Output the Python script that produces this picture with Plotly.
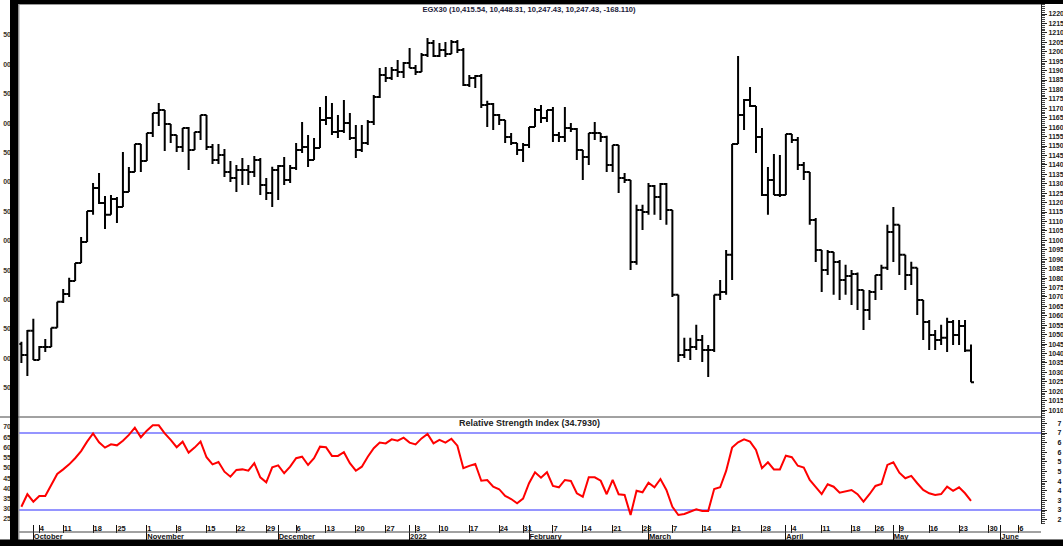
import plotly.graph_objects as go

# ---------------- data ----------------
bar_idx = list(range(160))

opens = [10451, 10392, 10520, 10366, 10435, 10435, 10536, 10674, 10716, 10785,
         10880, 10991, 11156, 11278, 11198, 11135, 11219, 11177, 11256, 11362,
         11511, 11421, 11569, 11675, 11691, 11617, 11558, 11495, 11596, 11479,
         11574, 11665, 11495, 11426, 11452, 11362, 11331, 11373, 11373, 11362,
         11426, 11294, 11251, 11373, 11394, 11320, 11384, 11479, 11495, 11426,
         11490, 11638, 11649, 11574, 11580, 11622, 11543, 11479, 11516, 11627,
         11760, 11877, 11861, 11903, 11892, 11940, 11914, 11892, 11983, 12046,
         11977, 12009, 11988, 12051, 12009, 11823, 11861, 11871, 11718, 11723,
         11665, 11638, 11548, 11516, 11479, 11506, 11601, 11691, 11649, 11691,
         11558, 11548, 11596, 11590, 11479, 11442, 11569, 11569, 11548, 11400,
         11506, 11331, 11320, 10885, 11161, 11150, 11288, 11230, 11299, 11161,
         10711, 10392, 10419, 10435, 10472, 10419, 10419, 10711, 10726, 10923,
         11511, 11665, 11744, 11712, 11548, 11240, 11320, 11240, 11240, 11564,
         11532, 11400, 11362, 11108, 10949, 10843, 10938, 10885, 10790, 10811,
         10822, 10737, 10631, 10726, 10816, 10854, 11044, 11082, 10923, 10816,
         10854, 10684, 10567, 10498, 10472, 10483, 10567, 10498, 10546, 10415.54]

highs = [10462, 10525, 10584, 10440, 10477, 10536, 10674, 10742, 10801, 10880,
         11018, 11156, 11304, 11357, 11235, 11240, 11230, 11468, 11389, 11511,
         11511, 11569, 11675, 11728, 11691, 11617, 11558, 11596, 11601, 11574,
         11665, 11665, 11511, 11511, 11484, 11421, 11400, 11437, 11400, 11447,
         11437, 11331, 11390, 11400, 11442, 11400, 11516, 11627, 11558, 11543,
         11707, 11765, 11728, 11665, 11744, 11675, 11612, 11612, 11638, 11771,
         11914, 11919, 11919, 11956, 11945, 12020, 11929, 11993, 12073, 12062,
         12046, 12051, 12062, 12062, 12020, 11877, 11877, 11882, 11740, 11728,
         11670, 11638, 11569, 11516, 11516, 11601, 11702, 11718, 11691, 11707,
         11574, 11707, 11622, 11596, 11479, 11569, 11627, 11569, 11555, 11506,
         11506, 11357, 11320, 11188, 11188, 11304, 11294, 11304, 11304, 11161,
         10711, 10483, 10483, 10552, 10498, 10445, 10711, 10790, 10949, 11511,
         11977, 11749, 11813, 11712, 11596, 11389, 11458, 11452, 11564, 11564,
         11548, 11415, 11362, 11119, 10949, 10949, 10938, 10896, 10870, 10843,
         10830, 10737, 10737, 10816, 10870, 11082, 11177, 11082, 10923, 10886,
         10854, 10684, 10578, 10525, 10552, 10589, 10578, 10578, 10578, 10448.31]

lows = [10350, 10281, 10366, 10366, 10408, 10435, 10536, 10668, 10700, 10785,
        10880, 10991, 11135, 11193, 11060, 11135, 11092, 11177, 11256, 11362,
        11362, 11421, 11548, 11606, 11474, 11516, 11468, 11468, 11373, 11479,
        11532, 11479, 11405, 11405, 11336, 11309, 11256, 11294, 11294, 11336,
        11240, 11214, 11177, 11214, 11294, 11304, 11373, 11463, 11389, 11426,
        11490, 11612, 11558, 11543, 11569, 11532, 11437, 11468, 11506, 11612,
        11755, 11839, 11850, 11866, 11861, 11914, 11877, 11892, 11972, 11972,
        11972, 11972, 11988, 11993, 11818, 11813, 11808, 11702, 11601, 11585,
        11612, 11516, 11506, 11453, 11415, 11490, 11601, 11622, 11627, 11521,
        11521, 11521, 11574, 11426, 11320, 11400, 11532, 11521, 11362, 11362,
        11251, 11304, 10843, 10870, 11055, 11135, 11135, 11108, 11082, 10700,
        10355, 10376, 10366, 10419, 10355, 10276, 10408, 10684, 10711, 10790,
        11511, 11585, 11707, 11463, 11235, 11135, 11240, 11230, 11240, 11516,
        11373, 11320, 11082, 10885, 10726, 10816, 10711, 10684, 10711, 10657,
        10631, 10525, 10578, 10684, 10737, 10843, 10885, 10816, 10737, 10763,
        10604, 10472, 10419, 10419, 10445, 10408, 10445, 10445, 10408, 10247.43]

closes = [10392, 10520, 10366, 10435, 10435, 10536, 10674, 10716, 10785, 10880,
          10991, 11156, 11278, 11198, 11135, 11219, 11177, 11256, 11362, 11511,
          11421, 11569, 11675, 11691, 11617, 11558, 11495, 11596, 11479, 11574,
          11665, 11495, 11426, 11452, 11362, 11331, 11373, 11373, 11362, 11426,
          11294, 11251, 11373, 11394, 11320, 11384, 11479, 11495, 11426, 11490,
          11638, 11649, 11574, 11580, 11622, 11543, 11479, 11516, 11627, 11760,
          11877, 11861, 11903, 11892, 11940, 11914, 11892, 11983, 12046, 11977,
          12009, 11988, 12051, 12009, 11823, 11861, 11871, 11718, 11723, 11665,
          11638, 11548, 11516, 11479, 11506, 11601, 11691, 11649, 11691, 11558,
          11548, 11596, 11590, 11479, 11442, 11569, 11569, 11548, 11400, 11506,
          11331, 11320, 10885, 11161, 11150, 11288, 11230, 11299, 11161, 10711,
          10392, 10419, 10435, 10472, 10419, 10419, 10711, 10726, 10923, 11511,
          11665, 11744, 11712, 11548, 11240, 11320, 11240, 11240, 11564, 11532,
          11400, 11362, 11108, 10949, 10843, 10938, 10885, 10790, 10811, 10822,
          10737, 10631, 10726, 10816, 10854, 11044, 11082, 10923, 10816, 10854,
          10684, 10567, 10498, 10472, 10483, 10567, 10498, 10546, 10415.54, 10247.43]

rsi = [31.7, 38.2, 34.3, 37.3, 37.3, 43.0, 48.7, 51.1, 53.7, 56.9,
       60.6, 65.5, 69.8, 65.2, 62.4, 64.1, 63.6, 66.0, 69.0, 72.8,
       67.8, 71.2, 74.0, 74.0, 69.8, 66.4, 62.6, 65.5, 59.8, 62.4,
       65.5, 57.4, 53.7, 54.9, 49.9, 47.3, 50.8, 51.1, 50.4, 54.3,
       47.0, 44.4, 52.2, 53.2, 49.1, 52.5, 56.9, 57.7, 53.4, 56.9,
       62.9, 62.6, 58.1, 58.1, 60.0, 54.3, 50.4, 52.5, 57.7, 62.1,
       65.0, 64.6, 66.7, 66.0, 67.6, 65.0, 64.1, 67.2, 69.5, 64.6,
       66.4, 65.0, 67.0, 63.4, 51.7, 52.9, 53.9, 45.2, 45.6, 42.1,
       40.8, 37.3, 35.7, 33.5, 35.9, 43.9, 49.6, 46.8, 49.6, 42.5,
       41.8, 45.6, 45.1, 38.7, 36.9, 47.0, 47.0, 45.2, 38.2, 45.6,
       38.2, 37.8, 27.4, 40.0, 39.2, 44.2, 41.8, 46.1, 40.4, 31.7,
       27.4, 27.9, 29.1, 30.4, 29.5, 29.5, 40.9, 41.8, 50.3, 62.4,
       65.2, 66.7, 65.5, 61.2, 51.7, 54.8, 51.1, 51.1, 58.2, 57.4,
       53.0, 52.0, 45.6, 41.8, 38.3, 43.4, 42.1, 39.0, 39.9, 40.4,
       38.2, 34.3, 38.2, 42.5, 43.5, 53.4, 54.8, 49.4, 46.5, 47.7,
       43.9, 40.4, 38.7, 37.8, 38.3, 42.1, 40.0, 41.8, 38.7, 34.79]

week_idx = [3, 7, 12, 16, 21, 26, 31, 36, 41, 46, 51, 56, 61, 66, 70, 75, 80, 84,
            89, 94, 99, 104, 109, 114, 119, 124, 129, 134, 139, 143, 147, 152, 157,
            162, 167]
week_lbl = ["4", "11", "18", "25", "1", "8", "15", "22", "29", "6", "13", "20", "27",
            "3", "10", "17", "24", "31", "7", "14", "21", "28", "7", "14", "21", "28",
            "4", "11", "18", "26", "9", "16", "23", "30", "6"]
month_idx = [2, 21, 43, 65, 85, 105, 128, 146, 164]
month_lbl = ["October", "November", "December", "2022", "February", "March",
             "April", "May", "June"]

# scale labels; the reference window cuts them, so only the visible part is shown
price_ticks = list(range(10100, 12201, 50))
price_lbl = [str(v)[:4] for v in price_ticks]
rsi_ticks = list(range(25, 76, 5))
rsi_lbl = [str(v)[:1] for v in rsi_ticks]
left_main_ticks = list(range(650, 1251, 50))
left_main_lbl = [str(v)[-2:] for v in left_main_ticks]
left_rsi_ticks = list(range(25, 71, 5))
left_rsi_lbl = [str(v) for v in left_rsi_ticks]

title_txt = "EGX30 (10,415.54, 10,448.31, 10,247.43, 10,247.43, -168.110)"
rsi_title = "Relative Strength Index (34.7930)"

# ---------------- layout geometry ----------------
W, H = 1063, 546
def px(x):
    return x / W
def py(y):
    return 1 - y / H

FONT = "Liberation Sans, Arial, sans-serif"
XRANGE = [-0.40, 170.72]

fig = go.Figure()

fig.add_trace(go.Ohlc(
    x=bar_idx, open=opens, high=highs, low=lows, close=closes,
    xaxis="x", yaxis="y",
    increasing=dict(line=dict(color="black", width=2)),
    decreasing=dict(line=dict(color="black", width=2)),
    tickwidth=0.5, hoverinfo="skip", showlegend=False,
))

fig.add_trace(go.Scatter(
    x=bar_idx, y=rsi, xaxis="x2", yaxis="y2", mode="lines",
    line=dict(color="#ff0000", width=2), hoverinfo="skip", showlegend=False,
))

# empty helper traces so that the overlaying scale axes get drawn
for xa, ya in (("x3", "y2"), ("x", "y3"), ("x2", "y4")):
    fig.add_trace(go.Scatter(x=[None], y=[None], xaxis=xa, yaxis=ya, mode="lines",
                             hoverinfo="skip", showlegend=False))

tickfont = dict(family=FONT, size=7, color="#222", weight="bold")
datefont = dict(family=FONT, size=7.5, color="#111", weight="bold")
leftfont = dict(family=FONT, size=7, color="#3a3428", weight="bold")

fig.update_layout(
    width=W, height=H, autosize=False,
    margin=dict(l=0, r=0, t=0, b=0, pad=0),
    paper_bgcolor="white", plot_bgcolor="white",
    showlegend=False,
    title=dict(text=title_txt, x=px(529), y=py(9.5), xref="paper", yref="paper",
               xanchor="center", yanchor="middle",
               font=dict(family=FONT, size=7.6, color="#1c1c3a", weight="bold")),
    xaxis=dict(domain=[px(19), px(1041)], range=XRANGE, anchor="y",
               showticklabels=False, ticks="", showgrid=False, zeroline=False,
               showline=False, rangeslider=dict(visible=False), automargin=False),
    yaxis=dict(domain=[py(417), py(4)], range=[10063.3, 12253.0], anchor="x",
               side="right", showline=True, linecolor="#222", linewidth=1,
               ticks="outside", ticklen=5, tickcolor="#222", tickwidth=1,
               tickmode="array", tickvals=price_ticks, ticktext=price_lbl,
               tickfont=tickfont,
               minor=dict(dtick=10, tick0=0, ticks="outside", ticklen=2.5,
                          tickcolor="#444", showgrid=False),
               showgrid=False, zeroline=False, automargin=False),
    yaxis3=dict(overlaying="y", anchor="x", side="left", range=[600.3, 1302.7],
                tickmode="array", tickvals=left_main_ticks, ticktext=left_main_lbl,
                ticks="", showline=False, showgrid=False, zeroline=False,
                tickfont=leftfont, ticklabelstandoff=7, automargin=False),
    xaxis2=dict(domain=[px(19), px(1041)], range=XRANGE, anchor="y2",
                tickmode="array", tickvals=week_idx, ticktext=week_lbl,
                ticks="outside", ticklen=8, tickcolor="#111", tickwidth=1,
                ticklabelposition="outside right", ticklabelstandoff=-3,
                tickfont=datefont, showgrid=False, zeroline=False,
                showline=False, automargin=False),
    xaxis3=dict(overlaying="x2", anchor="y2", range=XRANGE, side="bottom",
                tickmode="array", tickvals=month_idx, ticktext=month_lbl,
                ticks="outside", ticklen=16, tickcolor="#111", tickwidth=1,
                ticklabelposition="outside right", ticklabelstandoff=5,
                tickfont=datefont, showgrid=False, zeroline=False,
                showline=False, automargin=False),
    yaxis2=dict(domain=[py(524), py(417)], range=[22.73, 78.31], anchor="x2",
                side="right", showline=True, linecolor="#222", linewidth=1,
                ticks="outside", ticklen=5, tickcolor="#222", tickwidth=1,
                tickmode="array", tickvals=rsi_ticks, ticktext=rsi_lbl,
                tickfont=dict(family=FONT, size=7, color="#111", weight="bold"),
                ticklabelstandoff=9,
                minor=dict(dtick=1, tick0=0, ticks="outside", ticklen=2.5,
                           tickcolor="#444", showgrid=False),
                showgrid=False, zeroline=False, automargin=False),
    yaxis4=dict(overlaying="y2", anchor="x2", side="left", range=[22.54, 74.89],
                tickmode="array", tickvals=left_rsi_ticks, ticktext=left_rsi_lbl,
                ticks="", showline=False, showgrid=False, zeroline=False,
                tickfont=leftfont, ticklabelstandoff=7, automargin=False),
)

fig.add_annotation(text=rsi_title, x=px(529), y=py(422.5), xref="paper", yref="paper",
                   xanchor="center", yanchor="middle", showarrow=False,
                   font=dict(family=FONT, size=9, color="#222", weight="bold"))

shapes = []
# RSI overbought / oversold reference lines
for lvl in (70, 30):
    shapes.append(dict(type="line", xref="x2 domain", x0=0, x1=1, yref="y2",
                       y0=lvl, y1=lvl, line=dict(color="#7272ff", width=1.5),
                       layer="below"))
# panel frame lines
shapes += [
    dict(type="line", xref="paper", yref="paper", x0=0, x1=px(1041),
         y0=py(417), y1=py(417), line=dict(color="#444", width=1)),
    dict(type="line", xref="paper", yref="paper", x0=px(19), x1=px(1041),
         y0=py(532), y1=py(532), line=dict(color="#444", width=1)),
    dict(type="line", xref="paper", yref="paper", x0=px(19), x1=px(1041),
         y0=py(4.5), y1=py(4.5), line=dict(color="#999", width=1)),
    dict(type="line", xref="paper", yref="paper", x0=px(19), x1=px(19),
         y0=py(4), y1=py(540), line=dict(color="#999", width=1)),
    # black window edges
    dict(type="rect", xref="paper", yref="paper", x0=px(10), x1=1, y0=py(4), y1=1,
         fillcolor="black", line=dict(width=0)),
    dict(type="rect", xref="paper", yref="paper", x0=px(10), x1=px(18.3), y0=0, y1=1,
         fillcolor="black", line=dict(width=0)),
    dict(type="rect", xref="paper", yref="paper", x0=0, x1=1, y0=0, y1=py(539.5),
         fillcolor="black", line=dict(width=0)),
]
fig.update_layout(shapes=shapes)

fig.write_html("out.html", config={"displayModeBar": False},
               post_script="document.body.style.margin='0';document.body.style.overflow='hidden';")
